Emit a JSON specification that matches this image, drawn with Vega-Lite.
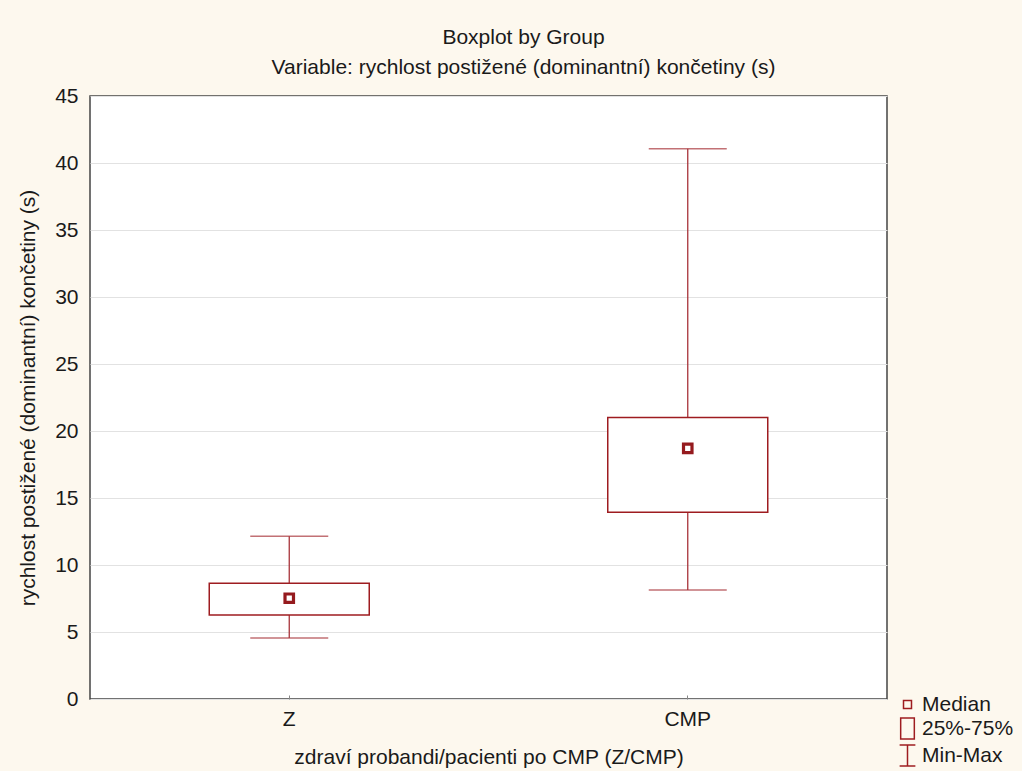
{
  "$schema": "https://vega.github.io/schema/vega-lite/v6.json",
  "width": 797,
  "height": 603,
  "autosize": {"type": "none"},
  "padding": {"left": 90, "top": 96, "right": 135, "bottom": 72},
  "background": "#fdf8ee",
  "title": {
    "text": "Boxplot by Group",
    "subtitle": "Variable: rychlost postižené (dominantní) končetiny (s)",
    "anchor": "middle",
    "dx": 35,
    "offset": 7,
    "font": "Liberation Sans",
    "fontSize": 21,
    "fontWeight": "normal",
    "color": "#1a1a1a",
    "subtitleFont": "Liberation Sans",
    "subtitleFontSize": 21,
    "subtitleColor": "#1a1a1a",
    "subtitlePadding": 9
  },
  "config": {
    "view": {"fill": "white", "stroke": "#444444", "strokeWidth": 1.5},
    "axis": {
      "labelFont": "Liberation Sans",
      "titleFont": "Liberation Sans",
      "labelFontSize": 21,
      "titleFontSize": 21,
      "titleFontWeight": "normal",
      "labelColor": "#1a1a1a",
      "titleColor": "#1a1a1a",
      "domain": false
    },
    "legend": {
      "labelFont": "Liberation Sans",
      "labelFontSize": 21,
      "labelColor": "#1a1a1a"
    }
  },
  "data": {
    "values": [
      {"group": "Z", "min": 4.55, "q1": 6.27, "median": 7.52, "q3": 8.64, "max": 12.15},
      {"group": "CMP", "min": 8.13, "q1": 13.93, "median": 18.7, "q3": 21.0, "max": 41.06}
    ]
  },
  "encoding": {
    "x": {
      "field": "group",
      "type": "nominal",
      "sort": ["Z", "CMP"],
      "scale": {"type": "band", "paddingInner": 0, "paddingOuter": 0},
      "axis": {
        "title": "zdraví probandi/pacienti po CMP (Z/CMP)",
        "labelAngle": 0,
        "grid": false,
        "ticks": true,
        "tickSize": -4,
        "tickColor": "#888888",
        "labelPadding": 13,
        "titlePadding": 17
      }
    }
  },
  "layer": [
    {
      "mark": {"type": "rule", "color": "#a8343a", "strokeWidth": 1.3},
      "encoding": {
        "y": {
          "field": "min",
          "type": "quantitative",
          "scale": {"domain": [0, 45], "nice": false},
          "axis": {
            "title": "rychlost postižené (dominantní) končetiny (s)",
            "values": [0, 5, 10, 15, 20, 25, 30, 35, 40, 45],
            "grid": true,
            "gridColor": "#e2e2e2",
            "gridWidth": 1.2,
            "ticks": false,
            "labelPadding": 12,
            "titlePadding": 16
          }
        },
        "y2": {"field": "max"}
      }
    },
    {
      "mark": {"type": "tick", "orient": "horizontal", "color": "#a8343a", "size": 78, "thickness": 1.5},
      "encoding": {"y": {"field": "min", "type": "quantitative"}}
    },
    {
      "mark": {"type": "tick", "orient": "horizontal", "color": "#a8343a", "size": 78, "thickness": 1.5},
      "encoding": {"y": {"field": "max", "type": "quantitative"}}
    },
    {
      "mark": {"type": "bar", "size": 160, "fill": "white", "stroke": "#9e1c20", "strokeWidth": 1.5},
      "encoding": {
        "y": {"field": "q1", "type": "quantitative"},
        "y2": {"field": "q3"}
      }
    },
    {
      "mark": {"type": "point", "shape": "square", "size": 72, "fill": "white", "stroke": "#951a1e", "strokeWidth": 3.2, "opacity": 1},
      "encoding": {"y": {"field": "median", "type": "quantitative"}}
    },
    {
      "data": {
        "values": [
          {"item": "Median"},
          {"item": "25%-75%"},
          {"item": "Min-Max"}
        ]
      },
      "transform": [{"filter": "false"}],
      "mark": {"type": "point", "filled": false, "color": "#9e1c20", "opacity": 1, "size": 441},
      "encoding": {
        "x": {"value": 0},
        "y": {"value": 0},
        "shape": {
          "field": "item",
          "type": "nominal",
          "scale": {
            "domain": ["Median", "25%-75%", "Min-Max"],
            "range": [
              "M-0.38,-0.38H0.38V0.38H-0.38Z",
              "M-0.65,-1H0.65V1H-0.65Z",
              "M-0.75,-1H0.75M0,-1V1M-0.75,1H0.75"
            ]
          },
          "legend": {
            "title": null,
            "orient": "none",
            "legendX": 806,
            "legendY": 597,
            "symbolSize": 441,
            "rowPadding": 0,
            "labelOffset": 3,
            "encode": {
              "symbols": {
                "update": {
                  "fill": {"value": "white"},
                  "stroke": {"value": "#951a1e"},
                  "opacity": {"value": 1},
                  "strokeWidth": [
                    {"test": "datum.label === 'Median'", "value": 3.5},
                    {"value": 1.5}
                  ]
                }
              }
            }
          }
        }
      }
    }
  ]
}
